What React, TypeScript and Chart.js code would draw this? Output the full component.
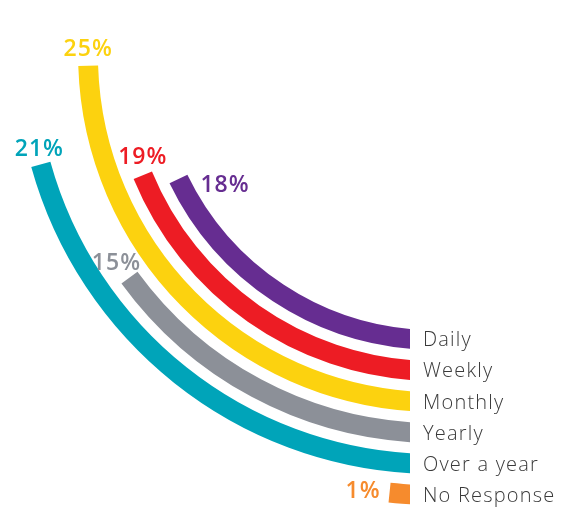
import React, { useEffect, useRef } from "react";
import { Chart, registerables } from "chart.js";

Chart.register(...registerables);

// ---- data ----
const categories = ["Daily", "Weekly", "Monthly", "Yearly", "Over a year", "No Response"];
const percentages = [18, 19, 25, 15, 21, 1];
const percentLabels = ["18%", "19%", "25%", "15%", "21%", "1%"];
const colors = ["#662D91", "#ED1C24", "#FCD20F", "#8C9098", "#00A4B9", "#F68B2D"];

// ---- layout / style constants ----
const SCALE_TOTAL = 105; // value that would fill a full circle
const START_ROTATION = 182.5; // degrees (180 = bottom)
const RING = 20;
const GAP = 11.3;
const CANVAS = 1000;
const PAD = 50;
const CENTER_X = 435;
const CENTER_Y = 55;
const CUT = 25; // arcs are cut vertically this many px left of centre
const CUTOUT = 275;

// percent label placement relative to each arc's end point
const pctPlacement = [
  { dx: 22, dy: 5, align: "left" },
  { dx: 0, dy: -19, align: "center" },
  { dx: 0, dy: -18, align: "center" },
  { dx: -13, dy: -15.5, align: "center" },
  { dx: -1.5, dy: -16, align: "center" },
  { dx: -9, dy: -3, align: "right" },
];

const TRANSPARENT = "rgba(0,0,0,0)";

function buildDatasets() {
  const ds: any[] = [];
  // outermost first
  for (let i = categories.length - 1; i >= 0; i--) {
    ds.push({
      label: categories[i],
      data: [percentages[i], SCALE_TOTAL - percentages[i]],
      backgroundColor: [colors[i], TRANSPARENT],
      borderWidth: 0,
      weight: RING,
      catIndex: i,
    });
    if (i > 0) {
      ds.push({
        label: "spacer",
        data: [SCALE_TOTAL],
        backgroundColor: [TRANSPARENT],
        borderWidth: 0,
        weight: GAP,
        catIndex: -1,
      });
    }
  }
  return ds;
}

const ringPlugin = {
  id: "ringLabels",
  beforeDatasetsDraw(chart: any) {
    const arc = chart.getDatasetMeta(0).data[0];
    const ctx = chart.ctx;
    ctx.save();
    ctx.beginPath();
    ctx.rect(0, 0, arc.x - CUT, chart.height);
    ctx.clip();
  },
  afterDatasetsDraw(chart: any) {
    const ctx = chart.ctx;
    ctx.restore();
    ctx.save();
    chart.data.datasets.forEach((d: any, di: number) => {
      const i = d.catIndex;
      if (i < 0) return;
      const arc: any = chart.getDatasetMeta(di).data[0];
      const cx = arc.x;
      const cy = arc.y;
      const rm = (arc.innerRadius + arc.outerRadius) / 2;
      // category label at the cut
      const yCut = cy + Math.sqrt(rm * rm - CUT * CUT);
      ctx.font = '300 20px "Open Sans"';
      ctx.fillStyle = "#3a3a3a";
      ctx.textAlign = "left";
      ctx.textBaseline = "alphabetic";
      (ctx as any).letterSpacing = "1.2px";
      ctx.fillText(categories[i], cx - CUT + 13, yCut + 7.5);
      // percent label at arc end
      const ea = arc.endAngle;
      const px = cx + rm * Math.cos(ea);
      const py = cy + rm * Math.sin(ea);
      const p = pctPlacement[i];
      ctx.font = '600 23px "Open Sans"';
      (ctx as any).letterSpacing = "1px";
      ctx.fillStyle = colors[i];
      ctx.textAlign = p.align as CanvasTextAlign;
      ctx.fillText(percentLabels[i], px + p.dx, py + p.dy + 8);
    });
    ctx.restore();
  },
};

export default function App() {
  const ref = useRef<HTMLCanvasElement | null>(null);
  useEffect(() => {
    if (!ref.current) return;
    const chart = new Chart(ref.current, {
      type: "doughnut",
      data: { labels: ["value", "rest"], datasets: buildDatasets() },
      options: {
        responsive: false,
        animation: false,
        events: [],
        rotation: START_ROTATION,
        circumference: 360,
        cutout: CUTOUT,
        layout: { padding: PAD },
        plugins: { legend: { display: false }, tooltip: { enabled: false } },
      } as any,
      plugins: [ringPlugin],
    });
    return () => chart.destroy();
  }, []);
  const half = CANVAS / 2;
  return (
    <div
      style={{
        position: "fixed",
        left: 0,
        top: 0,
        width: 572,
        height: 529,
        overflow: "hidden",
        background: "#ffffff",
      }}
    >
      <canvas
        ref={ref}
        width={CANVAS}
        height={CANVAS}
        style={{
          position: "absolute",
          left: CENTER_X - half,
          top: CENTER_Y - half,
          width: CANVAS,
          height: CANVAS,
        }}
      />
    </div>
  );
}
